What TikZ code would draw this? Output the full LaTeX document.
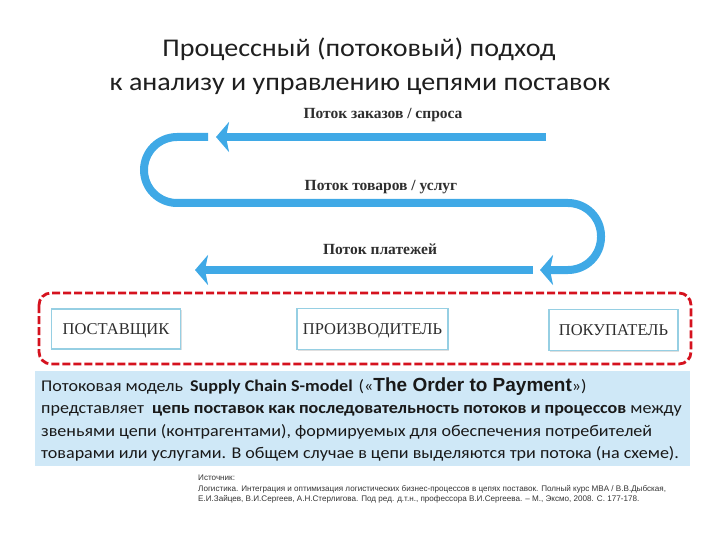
\documentclass[tikz,border=0pt]{standalone}
\usepackage{fontspec}
\setmainfont[FakeStretch=1.1]{Carlito}
\newfontfamily\serifbk{Liberation Serif}
\newfontfamily\arialfnt{Liberation Sans}
\usetikzlibrary{arrows.meta,shadows}
\definecolor{flowblue}{HTML}{3FA9E6}
\definecolor{dashred}{HTML}{D5121E}
\definecolor{panelblue}{HTML}{CFE8F7}
\definecolor{boxedge}{HTML}{96CFE3}
\definecolor{labelgray}{HTML}{2E2E2E}
\tikzset{
  flowline/.style={draw=flowblue, line width=8pt},
  flowtip/.style={-{Stealth[length=13pt,width=30pt,inset=3pt,fill=flowblue]}},
  flowlabel/.style={font=\serifbk\bfseries\fontsize{15.5}{17}\selectfont, text=labelgray},
  partybox/.style={draw=boxedge, line width=1.3pt, fill=white, font=\serifbk\fontsize{16.5}{18}\selectfont, text=labelgray, inner sep=0pt, text height=11pt, text depth=0pt, drop shadow={shadow xshift=1pt, shadow yshift=-1pt, opacity=0.25}},
  titletext/.style={font=\fontsize{25.5}{30}\selectfont, text=black!88, anchor=base},
  bodytext/.style={font=\fontsize{16.4}{19}\selectfont, text=black!90, anchor=base west, inner sep=0pt},
  srctext/.style={font=\arialfnt\fontsize{8.1}{9}\selectfont, text=black!80, anchor=base west, inner sep=0pt}
}
\begin{document}
\begin{tikzpicture}[x=1pt,y=-1pt]
\useasboundingbox (0,0) rectangle (720,540);
% title
\node[titletext] (t1) at (359,57) {Процессный (потоковый) подход};
\node[titletext] (t2) at (360,91) {к анализу и управлению цепями поставок};
% flow labels
\node[flowlabel] (l1) at (383,115) {Поток заказов / спроса};
\node[flowlabel] (l2) at (381,187) {Поток товаров / услуг};
\node[flowlabel] (l3) at (380,249) {Поток платежей};
% flows
\coordinate (a1s) at (546,137);
\coordinate (a1e) at (216,137);
\draw[flowline, flowtip] (a1s) -- (a1e);
\coordinate (s0) at (208,137);
\coordinate (s1) at (144,137);
\coordinate (s2) at (144,203);
\coordinate (s3) at (601,203);
\coordinate (s4) at (601,270);
\coordinate (s5) at (540,270);
\draw[flowline, flowtip, rounded corners=33pt] (s0) -- (s1) -- (s2) -- (s3) -- (s4) -- (s5);
\coordinate (a3s) at (533,270);
\coordinate (a3e) at (195,270);
\draw[flowline, flowtip] (a3s) -- (a3e);
% blue panel
\fill[panelblue] (35,371) rectangle (690,466);
% red dashed frame
\draw[dashred, line width=2.8pt, dash pattern=on 8pt off 3pt, rounded corners=12pt] (39,293) rectangle (691,364);
% parties
\node[partybox, minimum width=129pt, minimum height=40pt] (sup) at (116,329) {ПОСТАВЩИК};
\node[partybox, minimum width=151pt, minimum height=41pt] (man) at (372.5,329) {ПРОИЗВОДИТЕЛЬ};
\node[partybox, minimum width=129pt, minimum height=41pt] (buy) at (613.5,330) {ПОКУПАТЕЛЬ};
% body text
\node[bodytext] (b1) at (41,391) {Потоковая модель\hspace{3pt} \textbf{Supply Chain S-model} \hspace{2pt}(«{\arialfnt\bfseries\fontsize{19}{20}\selectfont The Order to Payment}»)};
\node[bodytext] (b2) at (41,413) {представляет~ \textbf{цепь поставок как последовательность потоков и процессов} между};
\node[bodytext] (b3) at (41,436) {звеньями цепи (контрагентами), формируемых для обеспечения потребителей};
\node[bodytext] (b4) at (41,458) {товарами или услугами. В общем случае в цепи выделяются три потока (на схеме).};
% source
\node[srctext] (src0) at (198,480) {Источник:};
\node[srctext] (src1) at (198,491.5) {Логистика. Интеграция и оптимизация логистических бизнес-процессов в цепях поставок. Полный курс MBA / В.В.Дыбская,};
\node[srctext] (src2) at (198,501.5) {Е.И.Зайцев, В.И.Сергеев, А.Н.Стерлигова. Под ред. д.т.н., профессора В.И.Сергеева. – М., Эксмо, 2008. С. 177-178.};
\end{tikzpicture}
\end{document}
